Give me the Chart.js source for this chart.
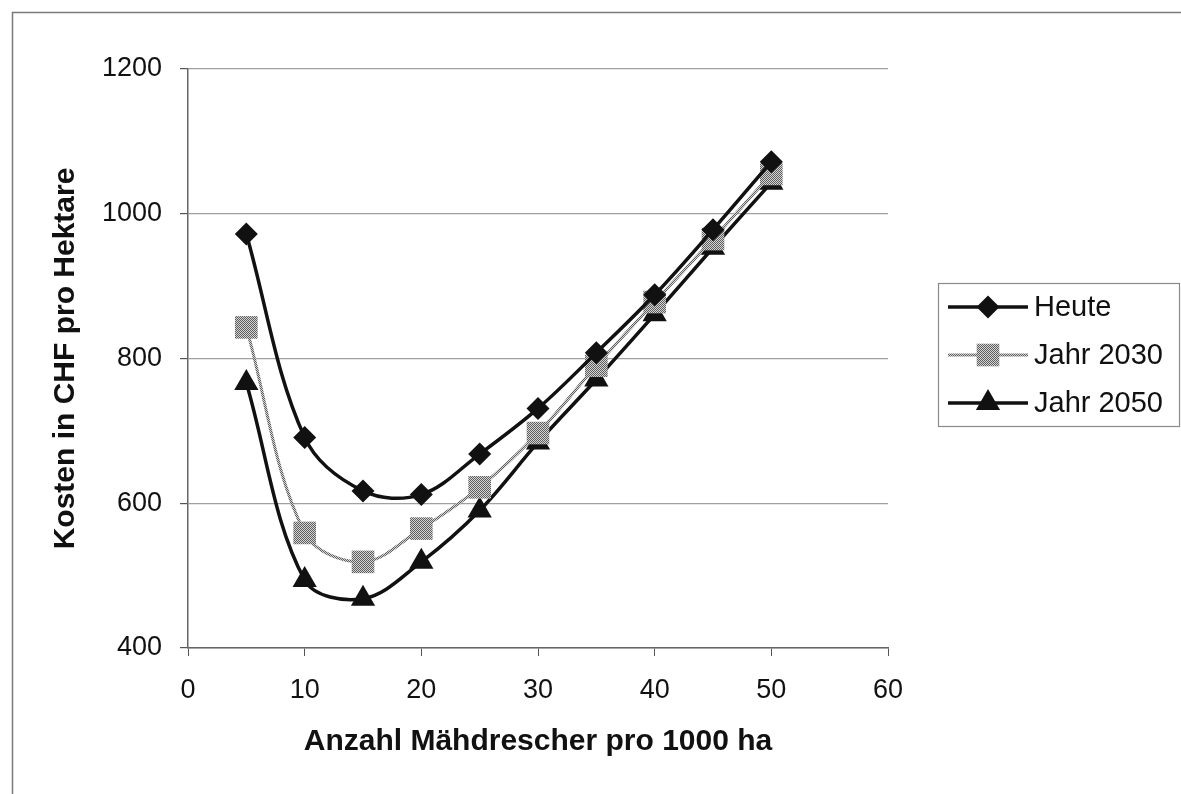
<!DOCTYPE html>
<html>
<head>
<meta charset="utf-8">
<script src="https://cdn.jsdelivr.net/npm/chart.js@4/dist/chart.umd.min.js"></script>
<style>
  html, body { margin: 0; padding: 0; background: #fff; }
  #wrap { width: 1181px; height: 794px; }
</style>
</head>
<body>
<div id="wrap"><canvas id="kosten-chart"></canvas></div>
<script>
// Values
const anzahl = [5, 10, 15, 20, 25, 30, 35, 40, 45, 50];
const heute = [972, 691, 617, 612, 668, 731, 808, 888, 978, 1072];
const jahr2030 = [843, 559, 519, 565, 622, 697, 790, 878, 965, 1055];
const jahr2050 = [766, 494, 468, 519, 590, 684, 771, 861, 953, 1043];
const seriesNames = ['Heute', 'Jahr 2030', 'Jahr 2050'];

const FONT = "'Liberation Sans', Arial, sans-serif";

// hatched grey like the scanned print
function hatch() {
  const c = document.createElement('canvas');
  c.width = 2; c.height = 2;
  const g = c.getContext('2d');
  g.fillStyle = '#d4d4d4';
  g.fillRect(0, 0, 2, 2);
  g.fillStyle = '#5e5e5e';
  g.fillRect(0, 0, 1, 1);
  g.fillRect(1, 1, 1, 1);
  return g.createPattern(c, 'repeat');
}
const grey = hatch();

function toPoints(ys) {
  return anzahl.map((x, i) => ({ x: x, y: ys[i] }));
}

// outer frame (only top and left edge are in the picture)
const framePlugin = {
  id: 'frame',
  beforeDraw(chart) {
    const ctx = chart.ctx;
    ctx.save();
    ctx.strokeStyle = '#7a7a7a';
    ctx.lineWidth = 1.5;
    ctx.beginPath();
    ctx.moveTo(12.5, 794);
    ctx.lineTo(12.5, 12.5);
    ctx.lineTo(1181, 12.5);
    ctx.stroke();
    ctx.restore();
  }
};

function marker(ctx, style, r, x, y) {
  ctx.beginPath();
  if (style === 'rectRot') {
    ctx.moveTo(x - r, y); ctx.lineTo(x, y - r);
    ctx.lineTo(x + r, y); ctx.lineTo(x, y + r);
  } else if (style === 'rect') {
    const s = Math.SQRT1_2 * r;
    ctx.rect(x - s, y - s, 2 * s, 2 * s);
  } else {
    const h = r * Math.sqrt(3) / 2;
    ctx.moveTo(x, y - r); ctx.lineTo(x + h, y + r / 2); ctx.lineTo(x - h, y + r / 2);
  }
  ctx.closePath();
  ctx.fill();
}

// legend drawn like the original: box, line sample with marker, label
const legendPlugin = {
  id: 'boxLegend',
  afterDraw(chart) {
    const ctx = chart.ctx;
    ctx.save();
    ctx.strokeStyle = '#8a8a8a';
    ctx.lineWidth = 1.2;
    ctx.strokeRect(938.5, 283.5, 241, 143);
    chart.data.datasets.forEach((ds, i) => {
      const y = 307 + 48 * i;
      ctx.strokeStyle = ds.borderColor;
      ctx.lineWidth = ds.borderWidth;
      ctx.beginPath();
      ctx.moveTo(948, y);
      ctx.lineTo(1028, y);
      ctx.stroke();
      ctx.fillStyle = ds.pointBackgroundColor;
      marker(ctx, ds.pointStyle, ds.pointRadius, 988, y);
      ctx.fillStyle = '#111';
      ctx.font = '29px ' + FONT;
      ctx.textBaseline = 'middle';
      ctx.textAlign = 'left';
      ctx.fillText(ds.label, 1034, y + 1);
    });
    ctx.restore();
  }
};

new Chart(document.getElementById('kosten-chart'), {
  type: 'line',
  data: {
    datasets: [{
      label: seriesNames[0],
      data: toPoints(heute),
      borderColor: '#111',
      borderWidth: 3.5,
      pointStyle: 'rectRot',
      pointRadius: 11.5,
      pointBackgroundColor: '#111',
      pointBorderWidth: 0,
      tension: 0.35
    },
    {
      label: seriesNames[1],
      data: toPoints(jahr2030),
      borderColor: grey,
      borderWidth: 3,
      pointStyle: 'rect',
      pointRadius: 16,
      pointBackgroundColor: grey,
      pointBorderWidth: 0,
      tension: 0.35
    },
    {
      label: seriesNames[2],
      data: toPoints(jahr2050),
      borderColor: '#111',
      borderWidth: 3.5,
      pointStyle: 'triangle',
      pointRadius: 14,
      pointBackgroundColor: '#111',
      pointBorderWidth: 0,
      tension: 0.35
    }]
  },
  options: {
    responsive: true,
    maintainAspectRatio: false,
    animation: false,
    layout: {
      padding: { left: 48, top: 69, right: 293, bottom: 34 }
    },
    plugins: {
      legend: { display: false },
      tooltip: { enabled: false }
    },
    scales: {
      x: {
        type: 'linear',
        min: 0,
        max: 60,
        afterFit: (s) => { s.height = 112; },
        ticks: {
          stepSize: 10,
          padding: 18,
          color: '#111',
          font: { family: FONT, size: 27 },
          callback: (v) => String(v)
        },
        grid: {
          drawOnChartArea: false,
          drawTicks: true,
          tickLength: 8,
          tickColor: '#555'
        },
        border: { color: '#666', width: 1.5 },
        title: {
          display: true,
          text: 'Anzahl Mähdrescher pro 1000 ha',
          color: '#111',
          padding: 0,
          font: { family: FONT, size: 30, weight: 'bold' }
        }
      },
      y: {
        min: 400,
        max: 1200,
        afterFit: (s) => { s.width = 140; },
        ticks: {
          stepSize: 200,
          padding: 18,
          color: '#111',
          font: { family: FONT, size: 27 },
          callback: (v) => String(v)
        },
        grid: {
          color: '#a0a0a0',
          lineWidth: 1.2,
          tickLength: 8,
          tickColor: '#555'
        },
        border: { color: '#666', width: 1.5 },
        title: {
          display: true,
          text: 'Kosten in CHF pro Hektare',
          color: '#111',
          padding: 0,
          font: { family: FONT, size: 30, weight: 'bold' }
        }
      }
    }
  },
  plugins: [framePlugin, legendPlugin]
});
</script>
</body>
</html>
